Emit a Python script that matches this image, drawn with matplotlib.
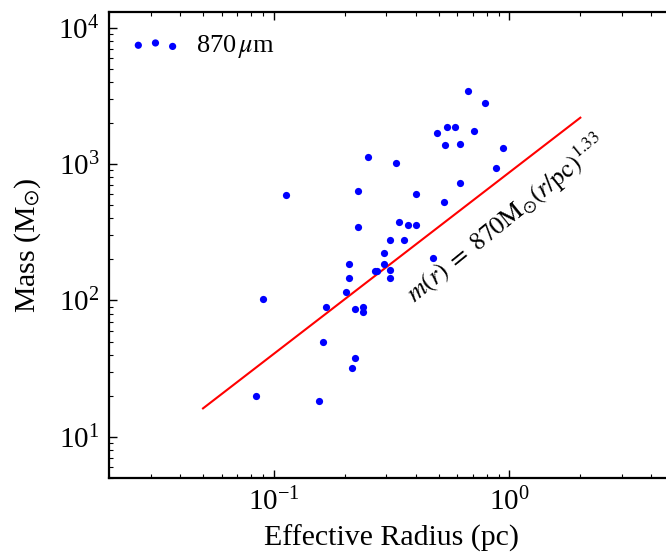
import numpy as np
import matplotlib
matplotlib.use('Agg')
import matplotlib.pyplot as plt

# radius (pc) and mass (Msun) of the 870um cores
radius = [0.669, 0.788, 0.491, 0.543, 0.587, 0.710, 0.532, 0.615, 0.940, 0.329,
          0.875, 0.615, 0.401, 0.526, 0.340, 0.371, 0.401, 0.311, 0.358, 0.293,
          0.293, 0.311, 0.311, 0.472, 0.113, 0.227, 0.250, 0.227, 0.209, 0.209,
          0.269, 0.274, 0.203, 0.0895, 0.167, 0.221, 0.238, 0.238, 0.161, 0.221,
          0.215, 0.0836, 0.155]
mass = [3428, 2799, 1695, 1876, 1854, 1745, 1378, 1392, 1301, 1017,
        939, 729, 606, 529, 373, 359, 355, 279, 279, 222,
        184, 168, 146, 205, 596, 634, 1131, 343, 185, 146,
        165, 165, 115, 102, 90, 87, 89, 82, 50, 38,
        32, 19.8, 18.4]

# m(r) = 870 Msun (r/pc)^1.33
fit_r = np.array([0.05, 2.0])
fit_norm = 870.0
fit_index = 1.33

plt.rcParams['font.family'] = ['Liberation Serif', 'DejaVu Serif']
plt.rcParams['mathtext.fontset'] = 'stix'

fig = plt.figure(figsize=(6.66, 5.54), dpi=100)
ax = fig.add_axes([0.1641, 0.1372, 0.848, 0.841])

ax.scatter(radius, mass, s=27, color='blue', linewidths=0, label=r'870$\,\mu$m', zorder=3)
ax.plot(fit_r, fit_norm * fit_r ** fit_index, color='red', lw=1.5)

ax.set_xscale('log')
ax.set_yscale('log')
ax.set_xlim(0.02, 5)
ax.set_ylim(5, 1.3e4)

ax.text(0.975, 395, r'$m(r)\;=\;870{\rm M}_{\odot}(r/{\rm pc})^{1.33}$', fontsize=18.5,
        rotation=39, ha='center', va='center', rotation_mode='anchor')

ax.set_xlabel('Effective Radius (pc)', fontsize=21.5, labelpad=6)
ax.set_ylabel(r'Mass (M$_{\odot}$)', fontsize=21.5, labelpad=11)

ax.tick_params(which='both', direction='in', top=True, right=True, labelsize=21)
ax.tick_params(which='major', length=6, width=1, pad=7)
ax.tick_params(which='minor', length=3, width=0.8)
for sp in ax.spines.values():
    sp.set_linewidth(1.6)

ax.legend(loc='upper left', frameon=False, fontsize=19, scatterpoints=3,
          handlelength=1.9, handletextpad=0.6, borderaxespad=0.4)

fig.savefig('out.png', dpi=100)
